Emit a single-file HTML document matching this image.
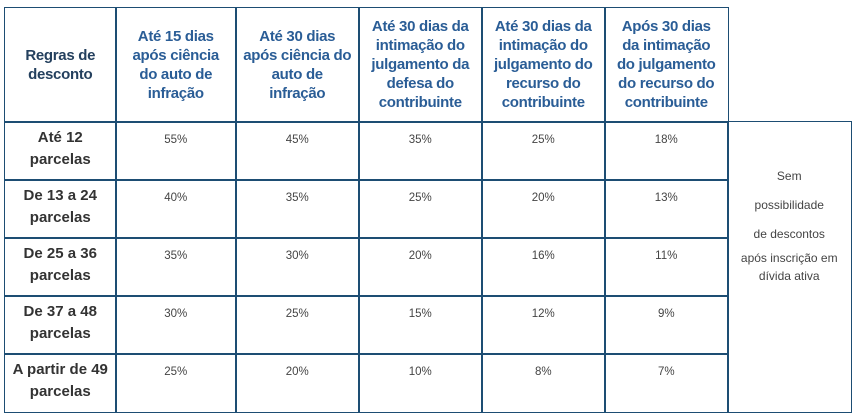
<!DOCTYPE html>
<html><head><meta charset="utf-8"><style>
body{margin:0;width:857px;height:420px;background:#fff;position:relative;overflow:hidden;font-family:"Liberation Sans",sans-serif}
.c{position:absolute;box-sizing:border-box;border:1.5px solid #1d4d73;text-align:center}
.h{color:#2a5d96;font-weight:bold;font-size:15px;line-height:19px;display:flex;align-items:center;justify-content:center;letter-spacing:-0.3px;white-space:nowrap}
.r{color:#333;font-weight:bold;font-size:15px;line-height:22px;padding-top:5px;white-space:nowrap}
.v{color:#444;font-size:11.5px;padding-top:12px}
.n{color:#444;font-size:12px;line-height:29px;padding-top:40px}
</style></head><body>
<div id="t"></div>
<script>
const headers=["Até 15 dias<br>após ciência<br>do auto de<br>infração","Até 30 dias<br>após ciência do<br>auto de<br>infração","Até 30 dias da<br>intimação do<br>julgamento da<br>defesa do<br>contribuinte","Até 30 dias da<br>intimação do<br>julgamento do<br>recurso do<br>contribuinte","Após 30 dias<br>da intimação<br>do julgamento<br>do recurso do<br>contribuinte"];
const rows=["Até 12<br>parcelas","De 13 a 24<br>parcelas","De 25 a 36<br>parcelas","De 37 a 48<br>parcelas","A partir de 49<br>parcelas"];
const vals=[["55%","45%","35%","25%","18%"],["40%","35%","25%","20%","13%"],["35%","30%","20%","16%","11%"],["30%","25%","15%","12%","9%"],["25%","20%","10%","8%","7%"]];
const xs=[4,115,235,358,481,604,727,850];
const ys=[7,121,179,237,295,353,411];
const t=document.getElementById('t');
function cell(x,y,w,h,cls,html,name){const d=document.createElement('div');d.className='c '+cls;
d.style.cssText=`left:${x}px;top:${y}px;width:${w+1.5}px;height:${h+1.5}px`;d.innerHTML=html;


t.appendChild(d);}
cell(xs[0],ys[0],xs[1]-xs[0],ys[1]-ys[0],'h','<span style="color:#24405e">Regras de<br>desconto</span>','header-rules');
headers.forEach((h,i)=>cell(xs[i+1],ys[0],xs[i+2]-xs[i+1],ys[1]-ys[0],'h',h,'header-col-'+(i+1)));
rows.forEach((r,j)=>{cell(xs[0],ys[j+1],xs[1]-xs[0],ys[j+2]-ys[j+1],'r',r,'row-label-'+(j+1));
vals[j].forEach((v,i)=>cell(xs[i+1],ys[j+1],xs[i+2]-xs[i+1],ys[j+2]-ys[j+1],'v',v,'value-r'+(j+1)+'-c'+(i+1)));});
cell(xs[6],ys[1],xs[7]-xs[6],ys[6]-ys[1],'n','Sem<br>possibilidade<br>de descontos<br><span style="line-height:18px;display:inline-block">após inscrição em<br>dívida ativa</span>','no-discount-note');
</script>
</body></html>
